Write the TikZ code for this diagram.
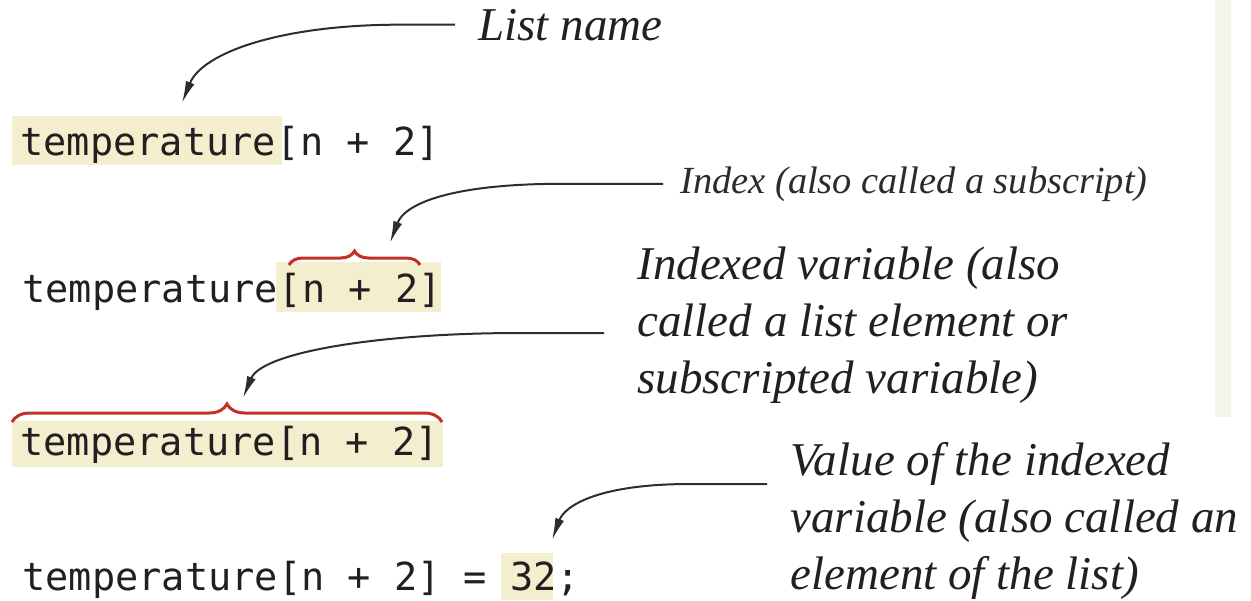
\documentclass[tikz,border=0pt]{standalone}
\usepackage{fontspec}
\setmainfont{Liberation Serif}
\setmonofont{DejaVu Sans Mono}
\usetikzlibrary{arrows.meta,decorations.pathreplacing}
\definecolor{hl}{RGB}{243,238,206}
\definecolor{strip}{RGB}{245,244,232}
\definecolor{bracered}{RGB}{196,48,38}
\definecolor{ink}{RGB}{35,31,32}
\definecolor{arrowink}{RGB}{45,45,45}
\begin{document}
\begin{tikzpicture}[x=0.5pt,y=-0.5pt,
  code/.style={font=\fontsize{19.3pt}{23pt}\selectfont\ttfamily, text=ink, inner sep=0pt, anchor=base west},
  biglabel/.style={font=\fontsize{23.5pt}{28.5pt}\selectfont\itshape, text=ink, inner sep=0pt, anchor=north west, align=left},
  smalllabel/.style={font=\fontsize{19.2pt}{22pt}\selectfont\itshape, text=ink!95, inner sep=0pt, anchor=base west},
  pointer/.style={draw=arrowink, line width=1pt, -{Latex[length=11pt,width=4.6pt]}},
  bracemark/.style={draw=bracered, line width=1.5pt, decorate, decoration={brace, amplitude=#1}},
  highlight/.style={fill=hl, draw=none}]
\useasboundingbox (0,0) rectangle (1251,600);
\fill[strip] (1215,0) rectangle (1231,417);

% row 1
\fill[highlight] (12,116) rectangle (282,165);
\node[code] (r1name) at (20,155) {temperature};
\node[code] (r1idx) at (r1name.base east) {[n + 2]};

% row 2
\fill[highlight] (276,262) rectangle (441,312);
\node[code] (r2name) at (22,302) {temperature};
\node[code] (r2idx) at (r2name.base east) {[n + 2]};
\draw[bracemark=7pt] (289,265) -- (420,265);

% row 3
\fill[highlight] (12,421) rectangle (443,467);
\node[code] (r3) at (20,455) {temperature[n + 2]};
\draw[bracemark=9pt] (12,422) -- (442,422);

% row 4
\fill[highlight] (501,553) rectangle (553,600);
\node[code] (r4) at (22,590) {temperature[n + 2] = 32;};

% labels
\node[biglabel, anchor=base west] (lbl1) at (478,40) {List name};
\node[smalllabel] (lbl2) at (680,193) {Index (also called a subscript)};
\node[biglabel] (lbl3) at (637,246) {Indexed variable (also\\called a list element or\\subscripted variable)};
\node[biglabel] (lbl4) at (790,442) {Value of the indexed\\variable (also called an\\element of the list)};

% arrow tips
\coordinate (tip1) at (182,103);
\coordinate (tip2) at (390,243);
\coordinate (tip3) at (243,398);
\coordinate (tip4) at (552,540);
\coordinate (s3) at (604,333);
\coordinate (s4) at (767,484);

\draw[pointer] ([xshift=-11.5pt]lbl1.west) -- ++(-55,0) .. controls +(-120,0) and +(20,-50) .. (tip1);
\draw[pointer] ([xshift=-8.5pt]lbl2.west) -- ++(-100,0) .. controls +(-110,0) and +(15,-40) .. (tip2);
\draw[pointer] (s3) -- ++(-84,0) .. controls +(-140,0) and +(19,-46) .. (tip3);
\draw[pointer] (s4) -- ++(-77,0) .. controls +(-90,0) and +(13,-35) .. (tip4);
\end{tikzpicture}
\end{document}
